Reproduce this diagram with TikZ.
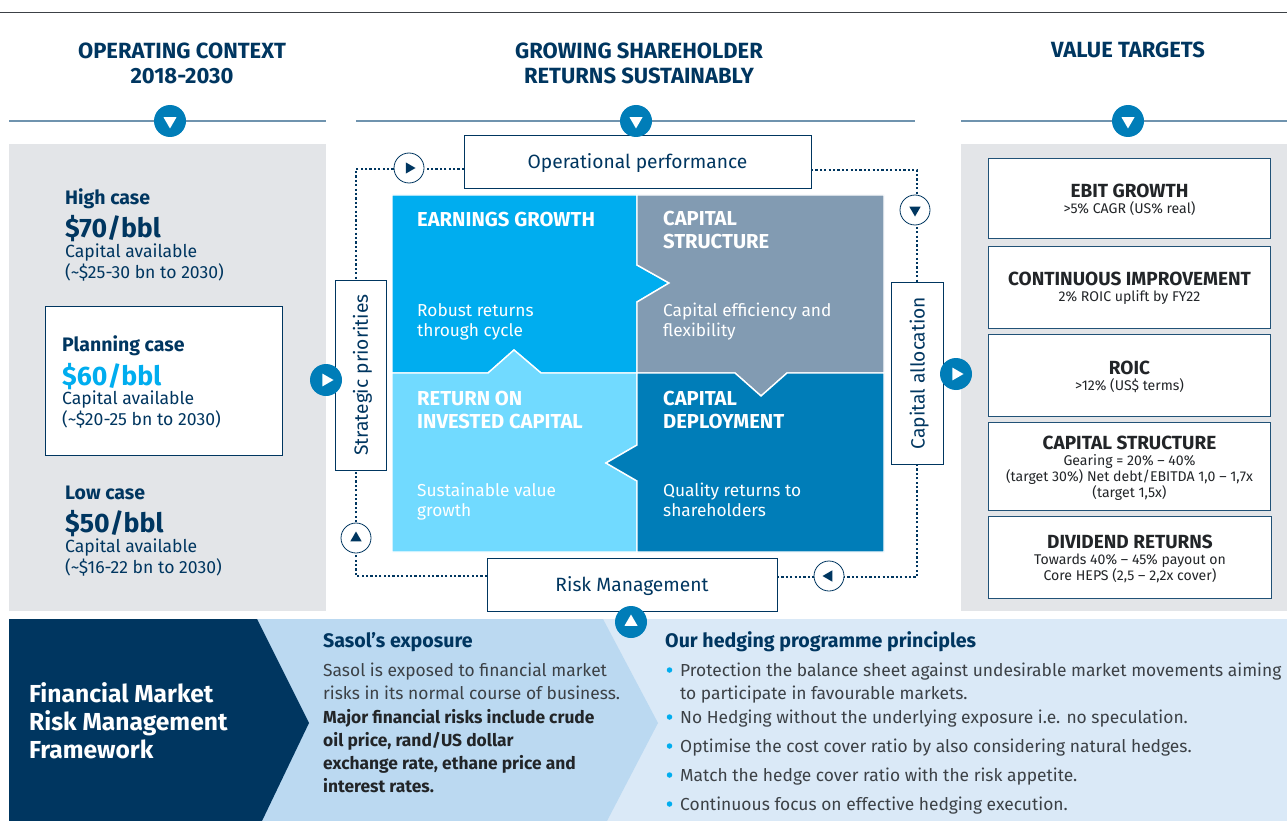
\documentclass[tikz,border=0pt]{standalone}
\usepackage{fontspec}
\usepackage{tikz}
\usetikzlibrary{shapes.geometric}
\setmainfont{Fira Sans}

\definecolor{navy}{HTML}{003660}
\definecolor{midblue}{HTML}{007DB8}
\definecolor{skyblue}{HTML}{00ADEF}
\definecolor{paleblue}{HTML}{71DAFF}
\definecolor{slateblue}{HTML}{829BB2}
\definecolor{panelgrey}{HTML}{E3E5E8}
\definecolor{bandblue}{HTML}{BBD9F1}
\definecolor{bandpale}{HTML}{DAE9F7}
\definecolor{rulecol}{HTML}{6F93AE}
\definecolor{inkgrey}{HTML}{3C4146}
\definecolor{inkdark}{HTML}{222528}

\newcommand{\targethead}[1]{{\fontsize{19}{22}\selectfont\bfseries\rule{0pt}{17pt}#1}}
\newcommand{\priceline}[1]{\fontsize{26.7}{30}\selectfont\textbf{#1}}
\newcommand{\casehead}[1]{\fontsize{19.5}{22}\selectfont\textbf{#1}}

\tikzset{
    headtext/.style={inner sep=0, align=center, text=navy, font=\fontsize{22}{25}\selectfont\bfseries},
    linkbox/.style={draw=navy, fill=white, line width=0.9pt, inner sep=0, text depth=0pt, text=navy, font=\fontsize{19.2}{22}\selectfont},
    targetbox/.style={draw=navy!70!rulecol, fill=white, line width=0.9pt, inner sep=0, minimum width=282.5, align=center, text=inkdark, font=\fontsize{14.1}{16}\selectfont},
    casetext/.style={inner sep=0, anchor=north west, align=left, text=navy, font=\fontsize{17.6}{21}\selectfont},
    quadhead/.style={inner sep=0, anchor=north west, align=left, text=white, font=\fontsize{20.2}{23}\selectfont\bfseries},
    quadtext/.style={inner sep=0, anchor=north west, align=left, text=white, font=\fontsize{17.3}{20}\selectfont},
    bandtext/.style={inner sep=0, anchor=north west, align=left, text=inkgrey, font=\fontsize{17.4}{23.2}\selectfont},
    bandhead/.style={inner sep=0, anchor=west, text=navy, font=\fontsize{19.6}{21}\selectfont\bfseries},
    dotline/.style={navy, line width=2.2pt, dash pattern=on 2.2pt off 2.2pt},
    bigdot/.style={circle, fill=midblue, minimum size=32, inner sep=0},
    smalldot/.style={circle, draw=navy, fill=white, line width=0.8pt, minimum size=30, inner sep=0},
    tri/.style={regular polygon, regular polygon sides=3, minimum size=15, inner sep=0},
    bulletdot/.style={circle, fill=skyblue, minimum size=5.5, inner sep=0},
}

\begin{document}
\begin{tikzpicture}[x=1pt, y=-1pt]
    \useasboundingbox (0,0) rectangle (1287,821);

    % Top rule and section rules
    \draw[inkgrey, line width=0.8pt] (0,12) -- (1287,12);
    \foreach \xa/\xb in {9/326, 356/915, 961/1287} {
        \draw[rulecol, line width=1.2pt] (\xa,121) -- (\xb,121);
    }

    % Section headings
    \node[headtext] (headcontext) at (182,63) {OPERATING CONTEXT\\2018-2030};
    \node[headtext] (headreturns) at (639,63) {GROWING SHAREHOLDER\\RETURNS SUSTAINABLY};
    \node[headtext] (headtargets) at (1128,50) {VALUE TARGETS};

    % Grey side panels
    \fill[panelgrey] (9,144) rectangle (326,611);
    \fill[panelgrey] (961,144) rectangle (1287,611);

    % Oil price cases
    \node[casetext] (highcase) at (65,188) {\casehead{High case}};
    \node[casetext] (highprice) at (65,215) {\priceline{\$70/bbl}};
    \node[casetext] (hightext) at (65,244) {Capital available\\(\textasciitilde\$25-30 bn to 2030)};

    \node[draw=navy, fill=white, line width=0.9pt, minimum width=237, minimum height=149, inner sep=0] (planbox) at (163.5,380.5) {};
    \node[casetext] (plancase) at (62,335.5) {\casehead{Planning case}};
    \node[casetext, text=skyblue] (planprice) at (62,363) {\priceline{\$60/bbl}};
    \node[casetext] (plantext) at (62,391) {Capital available\\(\textasciitilde\$20-25 bn to 2030)};

    \node[casetext] (lowcase) at (65,486) {\casehead{Low case}};
    \node[casetext] (lowprice) at (65,510) {\priceline{\$50/bbl}};
    \node[casetext] (lowtext) at (65,539) {Capital available\\(\textasciitilde\$16-22 bn to 2030)};

    % Puzzle quadrants
    \begin{scope}[draw=white, line width=1.4pt]
        \filldraw[fill=skyblue] (392,195) -- (637,195) -- (637,265) -- (669,283) -- (637,302) -- (637,373) -- (541,373) -- (514,350) -- (488,373) -- (392,373) -- cycle;
        \filldraw[fill=slateblue] (637,195) -- (884,195) -- (884,373) -- (787,373) -- (761,396) -- (735,373) -- (637,373) -- (637,302) -- (669,283) -- (637,265) -- cycle;
        \filldraw[fill=paleblue] (392,373) -- (488,373) -- (514,350) -- (541,373) -- (637,373) -- (637,445) -- (606,463) -- (637,481) -- (637,552) -- (392,552) -- cycle;
        \filldraw[fill=midblue] (637,373) -- (735,373) -- (761,396) -- (787,373) -- (884,373) -- (884,552) -- (637,552) -- (637,481) -- (606,463) -- (637,445) -- cycle;
    \end{scope}

    % Quadrant texts
    \node[quadhead] (earnhead) at (417,212) {EARNINGS GROWTH};
    \node[quadtext] (earntext) at (417,303) {Robust returns\\through cycle};
    \node[quadhead] (structhead) at (663,211) {CAPITAL\\STRUCTURE};
    \node[quadtext] (structtext) at (663,303) {Capital efficiency and\\flexibility};
    \node[quadhead] (returnhead) at (417,391) {RETURN ON\\INVESTED CAPITAL};
    \node[quadtext] (returntext) at (417,483) {Sustainable value\\growth};
    \node[quadhead] (deployhead) at (663,391) {CAPITAL\\DEPLOYMENT};
    \node[quadtext] (deploytext) at (663,483) {Quality returns to\\shareholders};

    % Boxes round the quadrants
    \node[linkbox, minimum width=347, minimum height=53] (opsbox) at (637.5,161.5) {Operational performance};
    \node[linkbox, minimum width=290, minimum height=53] (riskbox) at (632,584.5) {Risk Management};
    \node[linkbox, minimum width=190, minimum height=51, rotate=90] (stratbox) at (360.5,375) {Strategic priorities};
    \node[linkbox, minimum width=182, minimum height=52, rotate=90] (capbox) at (917,373) {Capital allocation};

    % Dotted loop from box to box
    \coordinate (opsleft) at (464,169);
    \coordinate (opsright) at (811,170);
    \coordinate (riskleft) at (487,576);
    \coordinate (riskright) at (777,577);
    \coordinate (stratup) at (356,280);
    \coordinate (stratdown) at (356,470);
    \draw[dotline] (opsleft) -| (stratup);
    \draw[dotline] (opsright) -| (capbox.east);
    \draw[dotline] (riskleft) -| (stratdown);
    \draw[dotline] (riskright) -| (capbox.west);

    % Round markers with their triangles
    \foreach \name/\x/\y/\ang in {contextmark/170/121/180, returnsmark/636/121/180, targetsmark/1128/121/180, leftmark/326/380/-90, rightmark/956/374/-90} {
        \node[bigdot] (\name) at (\x,\y) {};
        \node[tri, fill=white, rotate=\ang] (\name tri) at (\name) {};
    }
    \foreach \name/\x/\y/\ang in {loopa/409/168/-90, loopb/915/210/180, loopc/829/576/90, loopd/356/538/0} {
        \node[smalldot] (\name) at (\x,\y) {};
        \node[tri, fill=navy, rotate=\ang, minimum size=13] (\name tri) at (\name) {};
    }

    % Value target boxes
    \node[targetbox, minimum height=80] (targetebit) at (1129.5,198) {\targethead{EBIT GROWTH}\\>5\% CAGR (US\% real)};
    \node[targetbox, minimum height=82] (targetimprove) at (1129.5,287) {\targethead{CONTINUOUS IMPROVEMENT}\\2\% ROIC uplift by FY22};
    \node[targetbox, minimum height=82] (targetroic) at (1129.5,375) {\targethead{ROIC}\\>12\% (US\$ terms)};
    \node[targetbox, minimum height=88] (targetstruct) at (1129.5,466) {\targethead{CAPITAL STRUCTURE}\\Gearing = 20\% – 40\%\\(target 30\%) Net debt/EBITDA 1,0 – 1,7x\\(target 1,5x)};
    \node[targetbox, minimum height=82] (targetdiv) at (1130,557) {\targethead{DIVIDEND RETURNS}\\Towards 40\% – 45\% payout on\\Core HEPS (2,5 – 2,2x cover)};

    % Bottom band
    \fill[bandpale] (600,619) -- (1287,619) -- (1287,821) -- (600,821) -- cycle;
    \fill[bandblue] (250,619) -- (603,619) -- (658,723) -- (607,821) -- (250,821) -- cycle;
    \fill[navy] (9,619) -- (257,619) -- (309,723) -- (262,821) -- (9,821) -- cycle;
    \node[bigdot] (bandmark) at (631,622) {};
    \node[tri, fill=white] (bandmark tri) at (bandmark) {};

    \node[inner sep=0, anchor=north west, align=left, text=white, font=\fontsize{24.6}{28}\selectfont\bfseries] (bandtitle) at (29,682) {Financial Market\\Risk Management\\Framework};

    \node[bandhead] (exposehead) at (323,642) {Sasol’s exposure};
    \node[bandtext] (exposetext) at (323,663) {Sasol is exposed to financial market\\risks in its normal course of business.\\\textcolor{inkdark}{\textbf{Major financial risks include crude}}\\\textcolor{inkdark}{\textbf{oil price, rand/US dollar}}\\\textcolor{inkdark}{\textbf{exchange rate, ethane price and}}\\\textcolor{inkdark}{\textbf{interest rates.}}};

    \node[bandhead] (hedgehead) at (665,642) {Our hedging programme principles};
    \node[bandtext] (hedgea) at (680,663) {Protection the balance sheet against undesirable market movements aiming\\to participate in favourable markets.};
    \node[bandtext] (hedgeb) at (680,710) {No Hedging without the underlying exposure i.e. no speculation.};
    \node[bandtext] (hedgec) at (680,739) {Optimise the cost cover ratio by also considering natural hedges.};
    \node[bandtext] (hedged) at (680,768) {Match the hedge cover ratio with the risk appetite.};
    \node[bandtext] (hedgee) at (680,797) {Continuous focus on effective hedging execution.};
    \foreach \name/\y in {dota/670, dotb/717, dotc/746, dotd/775, dote/804} {
        \node[bulletdot] (\name) at (669.5,\y) {};
    }
\end{tikzpicture}
\end{document}
